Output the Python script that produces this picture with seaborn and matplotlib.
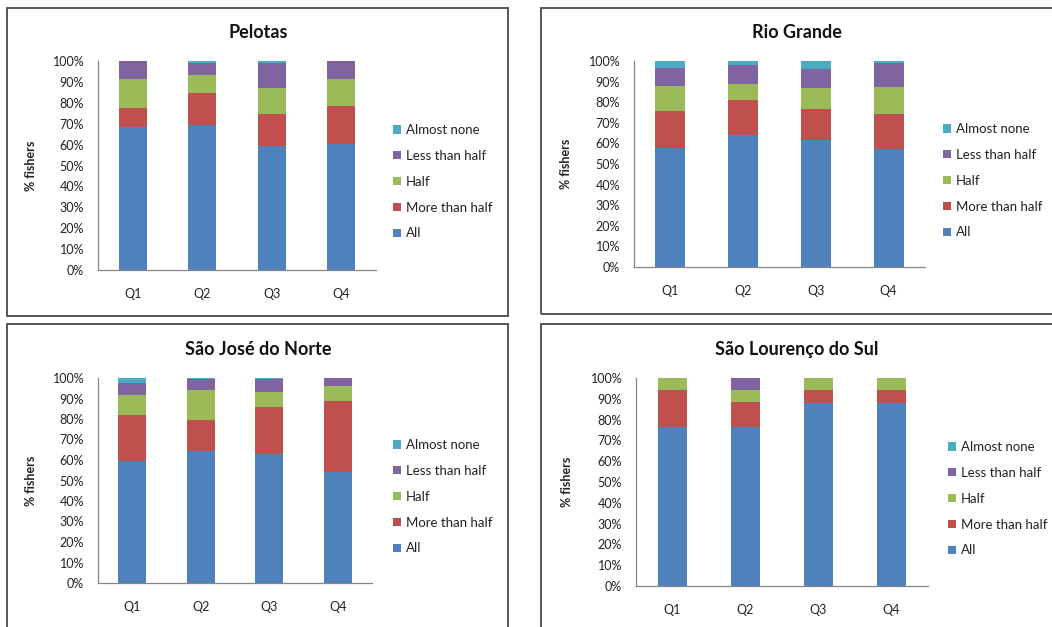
import matplotlib
matplotlib.use("Agg")
import matplotlib.pyplot as plt
from matplotlib.patches import Rectangle, Patch
from matplotlib.ticker import PercentFormatter, FixedLocator, NullFormatter
import seaborn as sns
import numpy as np

sns.set_theme(style="white")
plt.rcParams["font.family"] = ["Lato", "DejaVu Sans"]

quarters = ["Q1", "Q2", "Q3", "Q4"]
categories = ["All", "More than half", "Half", "Less than half", "Almost none"]
colors = ["#4F81BD", "#C0504D", "#9BBB59", "#8064A2", "#4BACC6"]

# share of fishers (%) per quarter, one list per answer category
pelotas_all = [68.2, 69.4, 59.3, 60.4]
pelotas_more = [9.5, 15.3, 15.3, 18.2]
pelotas_half = [13.6, 8.6, 12.6, 12.6]
pelotas_less = [8.7, 5.9, 12.0, 8.8]
pelotas_none = [0.0, 0.8, 0.8, 0.0]

rio_all = [57.7, 63.9, 61.8, 57.1]
rio_more = [18.0, 17.0, 14.9, 17.1]
rio_half = [12.3, 7.8, 10.3, 13.3]
rio_less = [8.4, 9.2, 8.9, 11.4]
rio_none = [3.6, 2.1, 4.1, 1.1]

sjn_all = [59.7, 64.4, 63.0, 54.1]
sjn_more = [22.2, 15.1, 22.7, 34.7]
sjn_half = [9.8, 14.8, 7.6, 7.5]
sjn_less = [5.9, 5.2, 6.3, 3.7]
sjn_none = [2.4, 0.5, 0.4, 0.0]

sls_all = [76.5, 76.5, 88.2, 88.2]
sls_more = [17.6, 11.8, 5.9, 5.9]
sls_half = [5.9, 5.9, 5.9, 5.9]
sls_less = [0.0, 5.8, 0.0, 0.0]
sls_none = [0.0, 0.0, 0.0, 0.0]

panels = [
    ("Pelotas", [pelotas_all, pelotas_more, pelotas_half, pelotas_less, pelotas_none]),
    ("Rio Grande", [rio_all, rio_more, rio_half, rio_less, rio_none]),
    ("São José do Norte", [sjn_all, sjn_more, sjn_half, sjn_less, sjn_none]),
    ("São Lourenço do Sul", [sls_all, sls_more, sls_half, sls_less, sls_none]),
]

W, H = 1052, 627
fig = plt.figure(figsize=(W / 100, H / 100), dpi=100)
fig.patch.set_facecolor("white")

# pixel geometry: (left, right, top, bottom) of plotting area
axes_px = [(98, 376, 61, 270), (634, 925, 61, 267),
           (98, 372, 378, 583), (636, 928, 378, 586)]
# chart frames: (left, top, right, bottom)
frames_px = [(7, 8, 508, 316), (541, 8, 1060, 314),
             (7, 324, 508, 640), (541, 324, 1060, 640)]
title_px = [(258, 32), (797, 32), (258, 349), (797, 349)]
legend_px = [(393, 124), (943, 123), (393, 439), (948, 441)]
ylabel_px = [37, 572, 37, 573]

axis_grey = "#868686"

for (fl, ft, fr, fb) in frames_px:
    fig.patches.append(Rectangle((fl / W, 1 - fb / H), (fr - fl) / W, (fb - ft) / H,
                                 transform=fig.transFigure, fill=False,
                                 edgecolor="#4a4a4a", linewidth=1.3))

for i, (title, series) in enumerate(panels):
    l, r, t, b = axes_px[i]
    ax = fig.add_axes([l / W, 1 - b / H, (r - l) / W, (b - t) / H])
    cum = np.cumsum(np.array(series), axis=0)
    # draw cumulative totals from the top layer down so each segment shows
    for k in range(len(categories) - 1, -1, -1):
        sns.barplot(x=quarters, y=cum[k], color=colors[k], saturation=1,
                    width=0.41, ax=ax, linewidth=0)
    ax.set_ylim(0, 100)
    ax.set_xlim(-0.5, 3.5)
    ax.yaxis.set_major_locator(FixedLocator(np.arange(0, 101, 10)))
    ax.yaxis.set_major_formatter(PercentFormatter(decimals=0))
    ax.xaxis.set_minor_locator(FixedLocator([-0.5, 0.5, 1.5, 2.5, 3.5]))
    ax.xaxis.set_minor_formatter(NullFormatter())
    ax.tick_params(axis="x", which="major", length=0, pad=13, labelsize=9, colors="#222222")
    ax.tick_params(axis="x", which="minor", length=4, width=0.8, color=axis_grey, direction="out")
    ax.tick_params(axis="y", which="major", length=5, width=0.8, color=axis_grey,
                   direction="out", pad=5, labelsize=9, labelcolor="#222222")
    for side in ("top", "right"):
        ax.spines[side].set_visible(False)
    for side in ("left", "bottom"):
        ax.spines[side].set_color(axis_grey)
        ax.spines[side].set_linewidth(0.9)
    ax.set_xlabel("")
    ax.set_ylabel("% fishers", fontsize=9, fontweight="bold", color="#222222")
    ax.yaxis.set_label_coords((ylabel_px[i] - l) / (r - l), 0.5)
    fig.text(title_px[i][0] / W, 1 - title_px[i][1] / H, title, ha="center", va="center",
             fontsize=13, fontweight="bold", color="#111111")
    handles = [Patch(facecolor=colors[k], edgecolor="none", label=categories[k])
               for k in range(len(categories) - 1, -1, -1)]
    fig.legend(handles=handles, loc="upper left",
               bbox_to_anchor=(legend_px[i][0] / W, 1 - legend_px[i][1] / H),
               frameon=False, fontsize=9.5, handlelength=0.6, handleheight=0.6,
               handletextpad=0.4, labelspacing=1.05, borderpad=0, borderaxespad=0,
               labelcolor="#222222")

fig.savefig("out.png", dpi=100, facecolor="white")
